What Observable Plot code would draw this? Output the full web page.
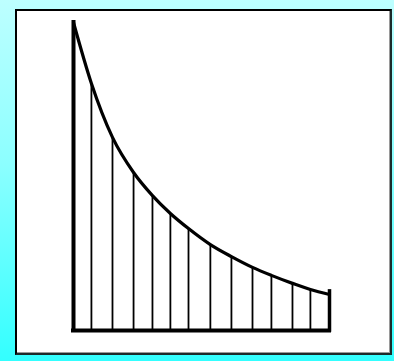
<!DOCTYPE html>
<html>
<head>
<meta charset="utf-8">
<script src="https://cdn.jsdelivr.net/npm/d3@7"></script>
<script src="https://cdn.jsdelivr.net/npm/@observablehq/plot@0.6"></script>
<style>
  html, body { margin: 0; padding: 0; width: 394px; height: 361px; overflow: hidden; }
  body { background: linear-gradient(to bottom, #bdffff 0%, #8cffff 45%, #33ffff 100%); position: relative; font-family: "DejaVu Sans", sans-serif; }
  #box { position: absolute; left: 15px; top: 9px; width: 373px; height: 342px; background: #fff;
         border: 2px solid #000; border-right-color: #1c2b2b; border-bottom-color: #1c2b2b;
         box-shadow: inset -1px -1px 0 #9a9a9a; }
  #chart { position: absolute; left: 0; top: 0; }
</style>
</head>
<body>
<div id="box"></div>
<div id="chart"></div>
<script>
// Curve points (x, y)
const curveX = [0, 0.91, 1.98, 3.05, 4.01, 4.92, 5.84, 6.95, 8.02, 9.09, 10.05, 11.12, 12.03, 13];
const curveY = [10, 8.02, 6.27, 5.13, 4.38, 3.80, 3.31, 2.79, 2.40, 2.05, 1.79, 1.53, 1.33, 1.17];
// Vertical lines under the curve
const stripX = [0.91, 1.98, 3.05, 4.01, 4.92, 5.84, 6.95, 8.02, 9.09, 10.05, 11.12, 12.03];
const stripTop = [8.02, 6.27, 5.13, 4.38, 3.80, 3.31, 2.79, 2.40, 2.05, 1.79, 1.53, 1.33];
const xMax = 13;
const yMax = 10;
const endTop = 1.27;

const curve = curveX.map((x, i) => ({x, y: curveY[i]}));
const strips = stripX.map((x, i) => ({x, top: stripTop[i]}));

const plot = Plot.plot({
  width: 394,
  height: 361,
  marginLeft: 73,
  marginRight: 65,
  marginTop: 22,
  marginBottom: 31,
  x: {domain: [0, xMax], axis: null},
  y: {domain: [0, yMax], axis: null},
  style: {background: "transparent", overflow: "visible"},
  marks: [
    Plot.ruleX(strips, {x: "x", y1: 0, y2: "top", stroke: "#000", strokeWidth: 1.8}),
    Plot.line(curve, {x: "x", y: "y", curve: "monotone-x", stroke: "#000", strokeWidth: 3.2}),
    Plot.ruleX([xMax], {y1: 0, y2: endTop, stroke: "#000", strokeWidth: 3.5, strokeLinecap: "square"}),
    Plot.ruleX([0], {y1: 0, y2: yMax, stroke: "#000", strokeWidth: 4, strokeLinecap: "square"}),
    Plot.ruleY([0], {x1: 0, x2: xMax, stroke: "#000", strokeWidth: 4, strokeLinecap: "square"})
  ]
});
document.getElementById("chart").appendChild(plot);
</script>
</body>
</html>
